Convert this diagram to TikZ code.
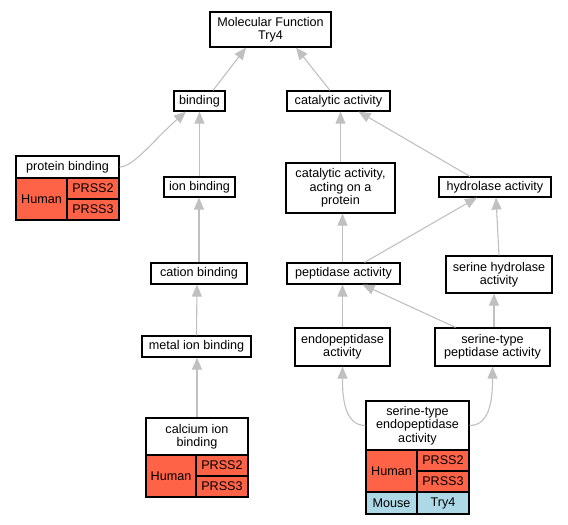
\documentclass[tikz,border=0pt]{standalone}
\usepackage{fontspec}
\setmainfont{Liberation Sans}
\usetikzlibrary{arrows.meta}
\definecolor{edgegray}{HTML}{C0C0C0}
\definecolor{human}{HTML}{FF6347}
\definecolor{mouse}{HTML}{ADD8E6}
\begin{document}
\begin{tikzpicture}[x=1pt,y=-1pt,
  box/.style={draw=black, line width=1.2pt, fill=white, inner sep=0pt, align=center,
    font=\fontsize{12.6}{13.3}\selectfont},
  hcell/.style={box, fill=human},
  mcell/.style={box, fill=mouse},
  edge/.style={draw=edgegray, line width=1.1pt, -{Triangle[length=12pt,width=10pt]}}]
\useasboundingbox (0,0) rectangle (568,525);

% nodes
\node[box, minimum width=121pt, minimum height=35pt] (mf) at (270.5,29.5) {Molecular Function\\Try4};
\node[box, minimum width=51pt, minimum height=20pt] (binding) at (199.5,101) {binding};
\node[box, minimum width=103pt, minimum height=20pt] (cat) at (338.5,101) {catalytic activity};

\node[box, minimum width=103pt, minimum height=22pt] (pbh) at (67.5,167) {protein binding};
\node[hcell, minimum width=51pt, minimum height=42pt] (pbhum) at (41.5,199) {Human};
\node[hcell, minimum width=52pt, minimum height=21pt] (pbp2) at (93,188.5) {PRSS2};
\node[hcell, minimum width=52pt, minimum height=21pt] (pbp3) at (93,209.5) {PRSS3};

\node[box, minimum width=71pt, minimum height=20pt] (ion) at (199.5,187) {ion binding};
\node[box, minimum width=109pt, minimum height=50pt] (cap) at (340.5,188) {catalytic activity,\\acting on a\\protein};
\node[box, minimum width=112pt, minimum height=20pt] (hyd) at (495,187) {hydrolase activity};

\node[box, minimum width=96pt, minimum height=21pt] (cation) at (199,273.5) {cation binding};
\node[box, minimum width=113pt, minimum height=21pt] (pep) at (343.5,273.5) {peptidase activity};
\node[box, minimum width=106pt, minimum height=37pt] (shyd) at (499,274.5) {serine hydrolase\\activity};

\node[box, minimum width=109pt, minimum height=21pt] (metal) at (196.5,346.5) {metal ion binding};
\node[box, minimum width=95pt, minimum height=38pt] (endo) at (342.5,347) {endopeptidase\\activity};
\node[box, minimum width=115pt, minimum height=38pt] (stp) at (492.5,347) {serine-type\\peptidase activity};

\node[box, minimum width=102pt, minimum height=37pt] (calh) at (197,436.5) {calcium ion\\binding};
\node[hcell, minimum width=50pt, minimum height=42pt] (calhum) at (171,476) {Human};
\node[hcell, minimum width=52pt, minimum height=21pt] (calp2) at (222,465.5) {PRSS2};
\node[hcell, minimum width=52pt, minimum height=21pt] (calp3) at (222,486.5) {PRSS3};

\node[box, minimum width=103pt, minimum height=49pt] (seh) at (417.5,425.5) {serine-type\\endopeptidase\\activity};
\node[hcell, minimum width=51pt, minimum height=42pt] (sehum) at (391.5,471) {Human};
\node[hcell, minimum width=52pt, minimum height=21pt] (sep2) at (443,460.5) {PRSS2};
\node[hcell, minimum width=52pt, minimum height=21pt] (sep3) at (443,481.5) {PRSS3};
\node[mcell, minimum width=51pt, minimum height=22pt] (semou) at (391.5,503) {Mouse};
\node[mcell, minimum width=52pt, minimum height=22pt] (setry) at (443,503) {Try4};

% edges
\draw[edge] ([xshift=13.5pt]binding.north) -- ([xshift=-24.5pt]mf.south);
\draw[edge] ([xshift=-8.5pt]cat.north) -- ([xshift=25.5pt]mf.south);
\draw[edge] (pbh.east) .. controls +(14,0) and +(-32,28) .. ([xshift=-13.5pt]binding.south);
\draw[edge] (ion.north) -- (binding.south);
\draw[edge] (cap.north) -- ([xshift=2pt]cat.south);
\draw[edge] ([xshift=-25pt]hyd.north) -- ([xshift=20pt]cat.south);
\draw[edge] (cation.north) -- ([xshift=-0.5pt]ion.south);
\draw[edge] ([xshift=-1pt]pep.north) -- ([xshift=2pt]cap.south);
\draw[edge] ([xshift=21pt]pep.north) -- ([xshift=-18pt]hyd.south);
\draw[edge] (shyd.north) -- ([xshift=1pt]hyd.south);
\draw[edge] (metal.north) -- ([xshift=-2pt]cation.south);
\draw[edge] (endo.north) -- ([xshift=-1pt]pep.south);
\draw[edge] ([xshift=-37pt]stp.north) -- ([xshift=19pt]pep.south);
\draw[edge] ([xshift=1.5pt]stp.north) -- ([xshift=-5pt]shyd.south);
\draw[edge] (calh.north) -- ([xshift=0.5pt]metal.south);
\draw[edge] (seh.west) .. controls +(-22,0) and +(0,28) .. (endo.south);
\draw[edge] (seh.east) .. controls +(22,0) and +(0,28) .. (stp.south);
\end{tikzpicture}
\end{document}
